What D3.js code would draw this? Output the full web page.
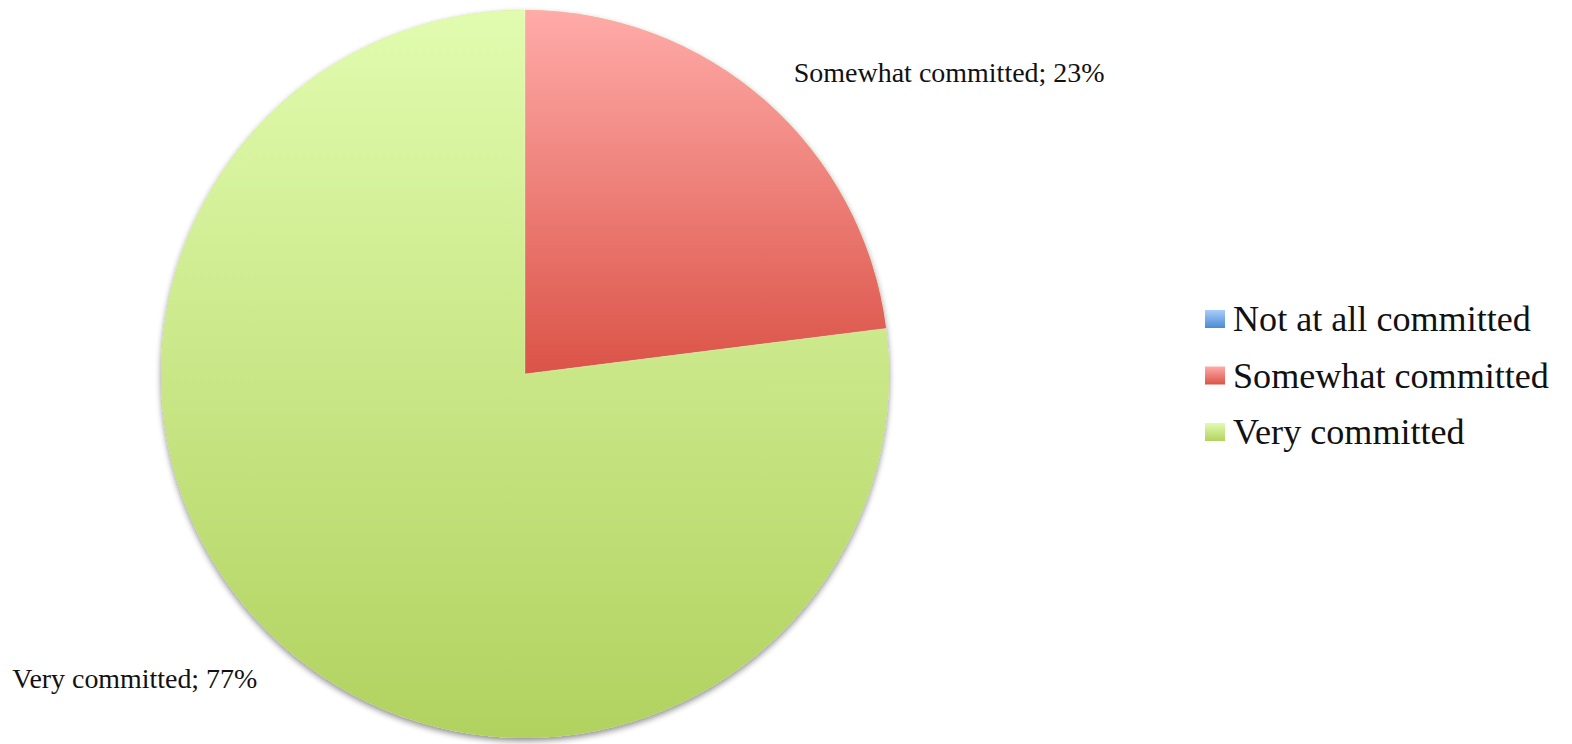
<!DOCTYPE html>
<html><head><meta charset="utf-8">
<script src="https://cdn.jsdelivr.net/npm/d3@7"></script>
<style>html,body{margin:0;padding:0;background:#fff;overflow:hidden}</style>
</head><body>
<svg id="chart" width="1572" height="744"></svg>
<script>
const categories = ["Not at all committed", "Somewhat committed", "Very committed"];
const values = [0, 23, 77];
const labelTexts = ["", "Somewhat committed; 23%", "Very committed; 77%"];
const colorTop = ["#A9CDFA", "#FFABA9", "#E1FCAF"];
const colorBottom = ["#4A8AD4", "#DB5347", "#B1D25F"];

const W = 1572, H = 744;
const svg = d3.select("#chart");
const defs = svg.append("defs");
const cx = 525, cy = 374, R = 364;
const FONT = "'Liberation Serif', 'DejaVu Serif', serif";

categories.forEach((c, i) => {
  const g = defs.append("linearGradient").attr("id", "grad" + i)
    .attr("x1", 0).attr("y1", 0).attr("x2", 0).attr("y2", 1);
  g.append("stop").attr("offset", "0%").attr("stop-color", colorTop[i]);
  g.append("stop").attr("offset", "100%").attr("stop-color", colorBottom[i]);
});
const f = defs.append("filter").attr("id", "shadow").attr("x", "-10%").attr("y", "-10%").attr("width", "120%").attr("height", "120%");
f.append("feGaussianBlur").attr("in", "SourceAlpha").attr("stdDeviation", 3).attr("result", "b");
f.append("feOffset").attr("in", "b").attr("dx", 0).attr("dy", 3).attr("result", "o");
f.append("feComponentTransfer").attr("in", "o").attr("result", "s")
  .append("feFuncA").attr("type", "linear").attr("slope", 0.45);
const m = f.append("feMerge");
m.append("feMergeNode").attr("in", "s");
m.append("feMergeNode").attr("in", "SourceGraphic");

const pie = d3.pie().sort(null).value(d => d)(values);
const arc = d3.arc().innerRadius(0).outerRadius(R);

const gPie = svg.append("g").attr("transform", `translate(${cx},${cy})`);
gPie.append("circle").attr("r", R).attr("fill", "#c4e283").attr("filter", "url(#shadow)");
gPie.selectAll("path.slice").data(pie).enter().append("path")
  .attr("class", "slice")
  .attr("d", arc)
  .attr("fill", (d, i) => `url(#grad${i})`)
  .attr("stroke", "none");
gPie.selectAll("line.sep").data(pie.filter(d => d.value > 0)).enter().append("line")
  .attr("x1", 0).attr("y1", 0)
  .attr("x2", d => R * Math.sin(d.startAngle)).attr("y2", d => -R * Math.cos(d.startAngle))
  .attr("stroke", "rgba(255,255,255,0.35)").attr("stroke-width", 0.8);

// data labels
const labelArc = d3.arc().innerRadius(R * 1.05).outerRadius(R * 1.05);
const labelOffsets = [[0,0,"start"], [16, -5, "start"], [-15, 27, "end"]];
const targetW = [0, 311, 245];
pie.forEach((d, i) => {
  if (!labelTexts[i]) return;
  const [px, py] = labelArc.centroid(d);
  const t = gPie.append("text")
    .attr("x", px + labelOffsets[i][0]).attr("y", py + labelOffsets[i][1])
    .attr("text-anchor", labelOffsets[i][2])
    .attr("font-family", FONT).attr("font-size", 20).attr("fill", "#111")
    .text(labelTexts[i]);
  const w = t.node().getComputedTextLength();
  t.attr("font-size", 20 * targetW[i] / w);
});

// legend
const legend = svg.append("g").attr("transform", "translate(1205,310)");
categories.forEach((c, i) => {
  const row = legend.append("g").attr("transform", `translate(0,${i * 56.5})`);
  row.append("rect").attr("width", 20).attr("height", 18).attr("fill", `url(#grad${i})`);
  const t = row.append("text").attr("x", 28).attr("y", 21)
    .attr("font-family", FONT).attr("font-size", 26).attr("fill", "#111").text(c);
  if (i === 0) {
    const w = t.node().getComputedTextLength();
    legend.attr("data-scale", 298 / w);
  }
});
const s = +legend.attr("data-scale");
legend.selectAll("text").attr("font-size", 26 * s);
</script>
</body></html>
